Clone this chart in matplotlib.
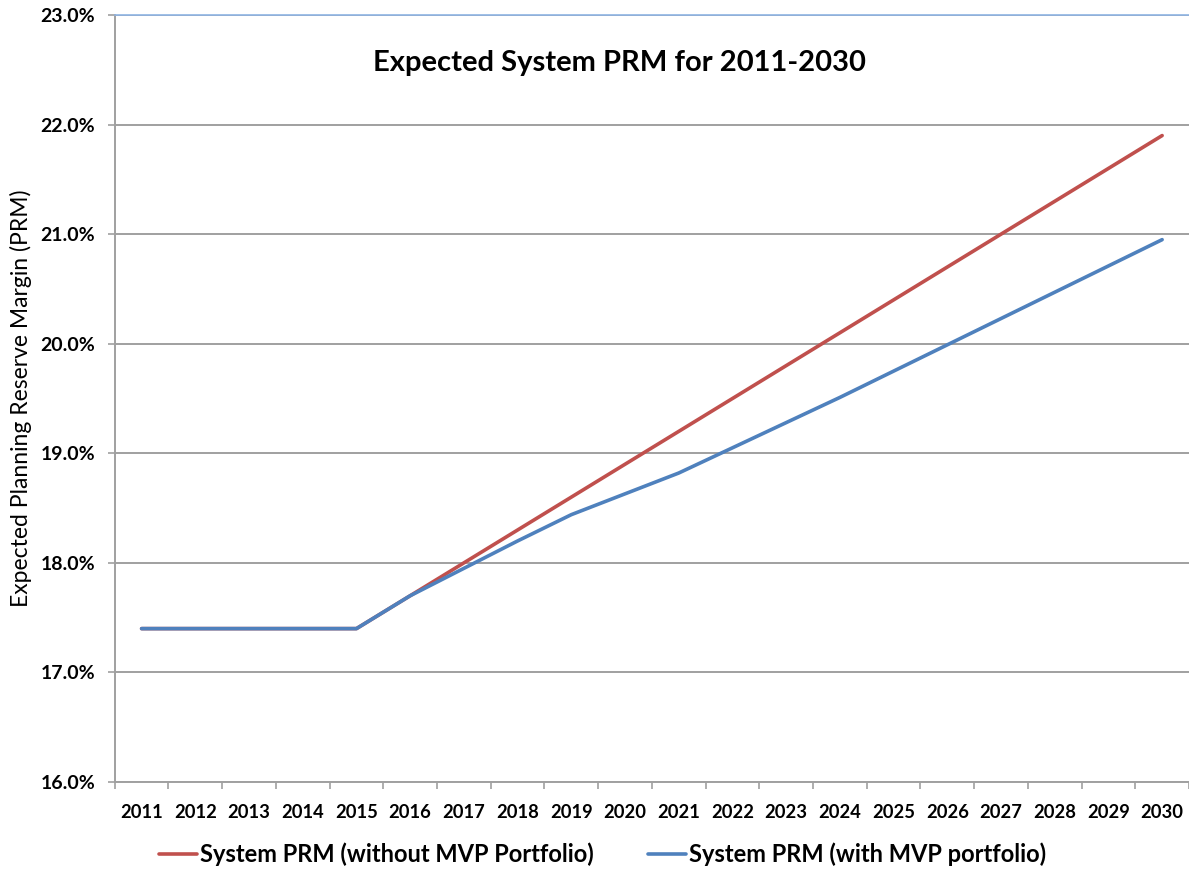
import numpy as np
import matplotlib as mpl
import matplotlib.pyplot as plt
from matplotlib.ticker import FixedLocator, FuncFormatter, NullFormatter
mpl.use('Agg')

years = [str(y) for y in range(2011, 2031)]
prm_without_mvp = [17.4, 17.4, 17.4, 17.4, 17.4, 17.7, 18.0, 18.3, 18.6, 18.9,
                   19.2, 19.5, 19.8, 20.1, 20.4, 20.7, 21.0, 21.3, 21.6, 21.9]
prm_with_mvp = [17.4, 17.4, 17.4, 17.4, 17.4, 17.7, 17.95, 18.2, 18.44, 18.63,
                18.82, 19.05, 19.28, 19.51, 19.75, 19.99, 20.23, 20.47, 20.71, 20.95]
legend_labels = ["System PRM (without MVP Portfolio)", "System PRM (with MVP portfolio)"]

plt.rcParams['font.family'] = ['Lato', 'DejaVu Sans']

fig = plt.figure(figsize=(11.89, 8.69), dpi=100)
ax = fig.add_axes([0.0965, 0.1001, 0.9035, 0.8826])

x = np.arange(len(years))
l1, = ax.plot(x, prm_without_mvp, color='#c0504d', linewidth=2.6, solid_capstyle='round', zorder=3)
l2, = ax.plot(x, prm_with_mvp, color='#4f81bd', linewidth=2.6, solid_capstyle='round', zorder=4)

ax.set_xlim(-0.5, len(years) - 0.5)
ax.set_ylim(16, 23)
ax.set_yticks(np.arange(16, 23.01, 1))
ax.yaxis.set_major_formatter(FuncFormatter(lambda v, p: f"{v:.1f}%"))
ax.yaxis.grid(True, color='#a0a0a0', linewidth=1.4)
ax.set_axisbelow(True)

# category labels centred, ticks on boundaries
ax.xaxis.set_major_locator(FixedLocator(np.arange(-0.5, len(years), 1)))
ax.xaxis.set_major_formatter(NullFormatter())
ax.xaxis.set_minor_locator(FixedLocator(x))
ax.set_xticklabels(years, minor=True)
ax.tick_params(axis='x', which='minor', length=0, pad=16, labelsize=13.2)
ax.tick_params(axis='x', which='major', length=5, width=1.2, color='#a0a0a0')
ax.tick_params(axis='y', length=5, width=1.2, color='#a0a0a0', labelsize=14, pad=9)
for lab in ax.get_xticklabels(minor=True) + ax.get_yticklabels():
    lab.set_fontweight('bold')

ax.spines['right'].set_visible(False)
ax.spines['top'].set_color('#8eb4e3')
ax.spines['top'].set_linewidth(1.2)
for s in ['left', 'bottom']:
    ax.spines[s].set_color('#a0a0a0')
    ax.spines[s].set_linewidth(1.4)

ax.set_ylabel("Expected Planning Reserve Margin (PRM)", fontsize=16.5, labelpad=6)
ax.text(0.47, 0.938, "Expected System PRM for 2011-2030", transform=ax.transAxes,
        ha='center', va='center', fontsize=21, fontweight='bold')

fig.legend([l1, l2], legend_labels, loc='center left', bbox_to_anchor=(0.12, 0.017), ncol=2,
           frameon=False, handlelength=1.61, handletextpad=0.12, columnspacing=2.3,
           borderpad=0.2, prop={'weight': 'bold', 'size': 17})

plt.savefig('out.png', dpi=100)
plt.close()
